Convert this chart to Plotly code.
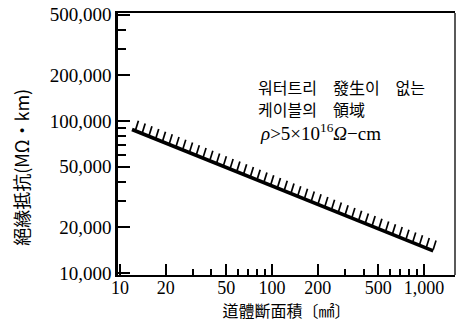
import numpy as np
import plotly.graph_objects as go

# Boundary line: conductor cross-section (mm²) vs insulation resistance (MΩ·km)
area_mm2 = [12, 1150]
resistance_mohm_km = [88000, 14000]

# Axis ticks
x_major = [10, 20, 50, 100, 200, 500, 1000]
x_major_text = ["10", "20", "50", "100", "200", "500", "1,000"]
x_minor = [30, 40, 60, 70, 80, 90, 300, 400, 600, 700, 800, 900]
y_major = [10000, 20000, 50000, 100000, 200000, 500000]
y_major_text = ["10,000", "20,000", "50,000", "100,000", "200,000", "500,000"]
y_minor = [30000, 40000, 60000, 70000, 80000, 90000, 300000, 400000]

region_lines = ["워터트리\u3000發生이\u3000없는", "케이블의\u3000領域"]
rho_text = "<i>ρ</i>&gt;5×10<sup>16</sup><i>Ω</i>−cm"
y_title = "絕緣抵抗(MΩ・km)"
x_title = "道體斷面積〔㎟〕"

# Hatch marks on the upper side of the boundary (computed in log space)
px_per_decade = 152.0
lx = np.log10(area_mm2)
ly = np.log10(resistance_mohm_km)
frac = np.linspace(0.012, 1.0, 45)
base_x = lx[0] + frac * (lx[1] - lx[0])
base_y = ly[0] + frac * (ly[1] - ly[0]) + 1.2 / px_per_decade
tip_x = base_x + 2.8 / px_per_decade
tip_y = base_y + 9.0 / px_per_decade
hx, hy = [], []
for bx, by, tx, ty in zip(base_x, base_y, tip_x, tip_y):
    hx += [10 ** bx, 10 ** tx, None]
    hy += [10 ** by, 10 ** ty, None]

fig = go.Figure()
fig.add_trace(go.Scatter(x=hx, y=hy, mode="lines",
                         line=dict(color="black", width=1.7),
                         hoverinfo="skip", showlegend=False))
fig.add_trace(go.Scatter(x=area_mm2, y=resistance_mohm_km, mode="lines",
                         line=dict(color="black", width=3.6),
                         showlegend=False))

serif = "'Liberation Serif', 'Times New Roman', 'DejaVu Serif', serif"
tick_font_x = dict(family=serif, size=18, color="black")
tick_font_y = dict(family=serif, size=19, color="black")
cjk = "'Noto Sans CJK KR', 'Noto Sans CJK JP', sans-serif"

fig.update_xaxes(
    type="log", range=[0.987, 3.204],
    tickmode="array", tickvals=x_major, ticktext=x_major_text,
    ticks="inside", ticklen=11, tickwidth=1.5, tickcolor="black",
    minor=dict(tickmode="array", tickvals=x_minor, ticks="inside",
               ticklen=6, tickwidth=1.5, tickcolor="black"),
    showline=True, linewidth=2.2, linecolor="black", mirror=True,
    showgrid=False, zeroline=False, tickfont=tick_font_x,
    ticklabelstandoff=-5,
    title=dict(text=x_title, font=dict(family=cjk, size=16, color="black"),
               standoff=0),
)
fig.update_yaxes(
    type="log", range=[3.987, 5.711],
    tickmode="array", tickvals=y_major, ticktext=y_major_text,
    ticks="inside", ticklen=12, tickwidth=1.5, tickcolor="black",
    minor=dict(tickmode="array", tickvals=y_minor, ticks="inside",
               ticklen=8, tickwidth=1.5, tickcolor="black"),
    showline=True, linewidth=2.5, linecolor="black", mirror=False,
    showgrid=False, zeroline=False, tickfont=tick_font_y,
)

annotations = [
    dict(x=0.41, y=0.716, xref="paper", yref="paper", text=region_lines[0],
         showarrow=False, xanchor="left", yanchor="middle",
         font=dict(family=cjk, size=16, color="black")),
    dict(x=0.41, y=0.632, xref="paper", yref="paper", text=region_lines[1],
         showarrow=False, xanchor="left", yanchor="middle",
         font=dict(family=cjk, size=16, color="black")),
    dict(x=0.415, y=0.545, xref="paper", yref="paper", text=rho_text,
         showarrow=False, xanchor="left", yanchor="middle",
         font=dict(family=serif, size=19, color="black")),
    # vertical axis title, reading bottom to top
    dict(x=-0.29, y=0.41, xref="paper", yref="paper", text=y_title,
         textangle=-90, showarrow=False, xanchor="center", yanchor="middle",
         font=dict(family=cjk, size=18, color="black")),
]

fig.update_layout(
    width=459, height=326, autosize=False,
    margin=dict(l=118, r=4, t=13, b=51),
    paper_bgcolor="white", plot_bgcolor="white",
    annotations=annotations,
    shapes=[dict(type="line", xref="paper", yref="paper", x0=1, x1=1, y0=0, y1=1,
                 line=dict(color="black", width=1.3))],
)

fig.write_html("out.html")
